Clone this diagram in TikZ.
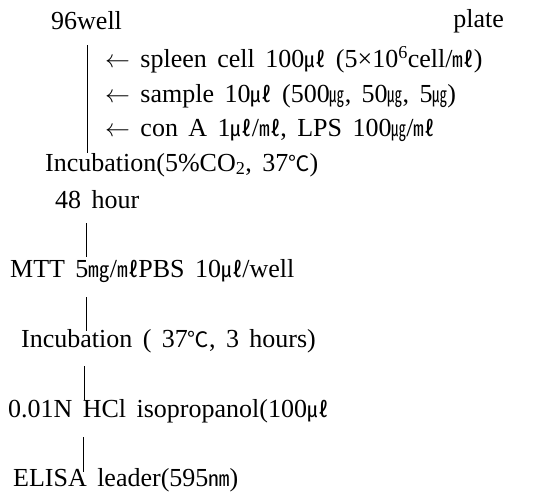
\documentclass[tikz,border=0pt]{standalone}
\usepackage{fontspec}
\usepackage{graphicx}
\setmainfont[WordSpace=1.6]{Liberation Serif}
\newfontfamily\cjk[Scale=0.82]{Noto Sans CJK KR}
\newcommand\U[1]{{\cjk #1}}
\newcommand\ugunit{\scalebox{0.7}[1]{\cjk ㎍}}
\begin{document}
\begin{tikzpicture}[x=1pt,y=-1pt,
  every node/.style={inner sep=0pt, font=\fontsize{26}{30}\selectfont},
  lbl/.style={anchor=west},
  conn/.style={line width=1pt}]
\useasboundingbox (0,0) rectangle (534,493);
\node[lbl] (well) at (51,21) {96well};
\node[anchor=east] (plate) at (504,21) {plate};
\node[lbl] (a1) at (105,60) {$\leftarrow$ spleen cell 100\U{㎕} (5×10\textsuperscript{6}cell/\U{㎖})};
\node[lbl] (a2) at (105,96) {$\leftarrow$ sample 10\U{㎕} (500\ugunit, 50\ugunit, 5\ugunit)};
\node[lbl] (a3) at (105,130) {$\leftarrow$ con A 1\U{㎕}/\U{㎖}, LPS 100\ugunit/\U{㎖}};
\node[lbl] (inc1) at (45,165) {Incubation(5\%CO\textsubscript{2}, 37\U{℃})};
\node[lbl] (h48) at (55,200) {48 hour};
\node[lbl] (mtt) at (10,271) {MTT 5\U{㎎}/\U{㎖}PBS 10\U{㎕}/well};
\node[lbl] (inc2) at (21,341) {Incubation ( 37\U{℃}, 3 hours)};
\node[lbl] (hcl) at (8,411) {0.01N HCl isopropanol(100\U{㎕}};
\node[lbl] (elisa) at (13,480) {ELISA leader(595\U{㎚})};
\coordinate (s1a) at (87,45);
\coordinate (s1b) at (87,153);
\coordinate (s2a) at (86,223);
\coordinate (s2b) at (86,257);
\coordinate (s3a) at (86,297);
\coordinate (s3b) at (86,331);
\coordinate (s4a) at (84,366);
\coordinate (s4b) at (84,400);
\coordinate (s5a) at (83,437);
\coordinate (s5b) at (83,472);
\draw[conn] (s1a) -- (s1b);
\draw[conn] (s2a) -- (s2b);
\draw[conn] (s3a) -- (s3b);
\draw[conn] (s4a) -- (s4b);
\draw[conn] (s5a) -- (s5b);
\end{tikzpicture}
\end{document}
